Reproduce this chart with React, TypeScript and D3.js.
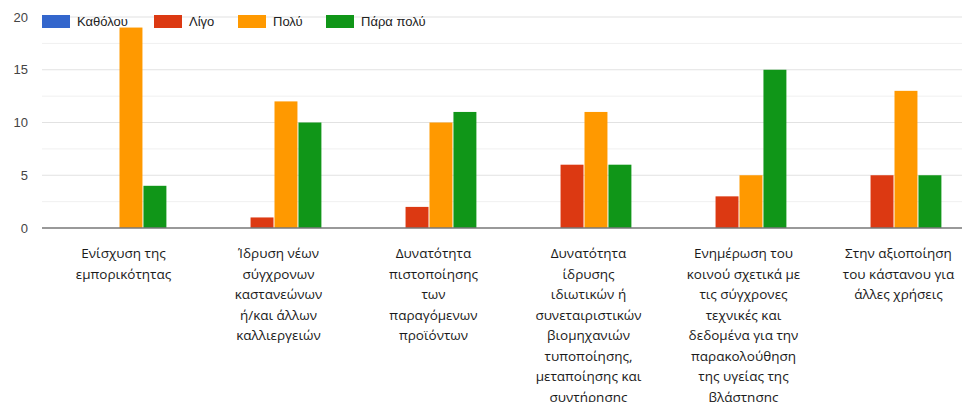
import React from "react";
import * as d3 from "d3";

const categories: string[][] = [
  ["Ενίσχυση της", "εμπορικότητας"],
  ["Ίδρυση νέων", "σύγχρονων", "καστανεώνων", "ή/και άλλων", "καλλιεργειών"],
  ["Δυνατότητα", "πιστοποίησης", "των", "παραγόμενων", "προϊόντων"],
  ["Δυνατότητα", "ίδρυσης", "ιδιωτικών ή", "συνεταιριστικών", "βιομηχανιών", "τυποποίησης,", "μεταποίησης και", "συντήρησης"],
  ["Ενημέρωση του", "κοινού σχετικά με", "τις σύγχρονες", "τεχνικές και", "δεδομένα για την", "παρακολούθηση", "της υγείας της", "βλάστησης"],
  ["Στην αξιοποίηση", "του κάστανου για", "άλλες χρήσεις"],
];

const seriesNames = ["Καθόλου", "Λίγο", "Πολύ", "Πάρα πολύ"];
const seriesColors = ["#3366cc", "#dc3912", "#ff9900", "#109618"];

const katholou = [0, 0, 0, 0, 0, 0];
const ligo = [0, 1, 2, 6, 3, 5];
const poly = [19, 12, 10, 11, 5, 13];
const paraPoly = [4, 10, 11, 6, 15, 5];
const seriesValues = [katholou, ligo, poly, paraPoly];

const yTicks = [0, 5, 10, 15, 20];
const yMinor = [2.5, 7.5, 12.5, 17.5];

const W = 962;
const H = 402;

export default function App() {
  const ids = categories.map((_, i) => String(i));
  const x = d3.scaleBand<string>().domain(ids).range([42, 42 + 155 * 6]).paddingInner(0.382).paddingOuter(0.191);
  const xi = d3.scaleBand<string>().domain(seriesNames).range([0, x.bandwidth()]).padding(0);
  const y = d3.scaleLinear().domain([0, 20]).range([228, 17]);

  const legendX = [42, 154, 238, 326];

  return (
    <svg width={W} height={H} style={{ position: "absolute", left: 0, top: 0, background: "#fff" }}>
      {yMinor.map((t) => (
        <line key={"m" + t} x1={42} x2={W} y1={y(t)} y2={y(t)} stroke="#f0f0f0" strokeWidth={1} />
      ))}
      {yTicks.filter((t) => t !== 0).map((t) => (
        <line key={"g" + t} x1={42} x2={W} y1={y(t)} y2={y(t)} stroke="#e2e2e2" strokeWidth={1.2} />
      ))}
      {yTicks.map((t) => (
        <text key={"t" + t} x={28} y={y(t) + 4.5} textAnchor="end" fontFamily="Liberation Sans, Arial, sans-serif" fontSize={13} fill="#444">
          {t}
        </text>
      ))}
      {categories.map((_, ci) =>
        seriesNames.map((s, si) => {
          const v = seriesValues[si][ci];
          if (v <= 0) return null;
          return (
            <rect
              key={ci + "-" + si}
              x={(x(String(ci)) as number) + (xi(s) as number)}
              y={y(v)}
              width={xi.bandwidth() - 1}
              height={y(0) - y(v)}
              fill={seriesColors[si]}
            />
          );
        })
      )}
      <line x1={42} x2={W} y1={y(0)} y2={y(0)} stroke="#777" strokeWidth={1.3} />
      {seriesNames.map((s, i) => (
        <g key={"l" + s}>
          <rect x={legendX[i]} y={15} width={28} height={13} fill={seriesColors[i]} />
          <text x={legendX[i] + 35} y={26} fontFamily="Liberation Sans, Arial, sans-serif" fontSize={13} fill="#222">
            {s}
          </text>
        </g>
      ))}
      {categories.map((lines, ci) => (
        <text
          key={"c" + ci}
          x={(x(String(ci)) as number) + x.bandwidth() / 2 + 4}
          y={258}
          textAnchor="middle"
          fontFamily="Open Sans, Noto Sans, sans-serif"
          fontSize={13.5}
          fill="#1a1a1a"
        >
          {lines.map((ln, li) => (
            <tspan key={li} x={(x(String(ci)) as number) + x.bandwidth() / 2 + 4} dy={li === 0 ? 0 : 20.5}>
              {ln}
            </tspan>
          ))}
        </text>
      ))}
    </svg>
  );
}
